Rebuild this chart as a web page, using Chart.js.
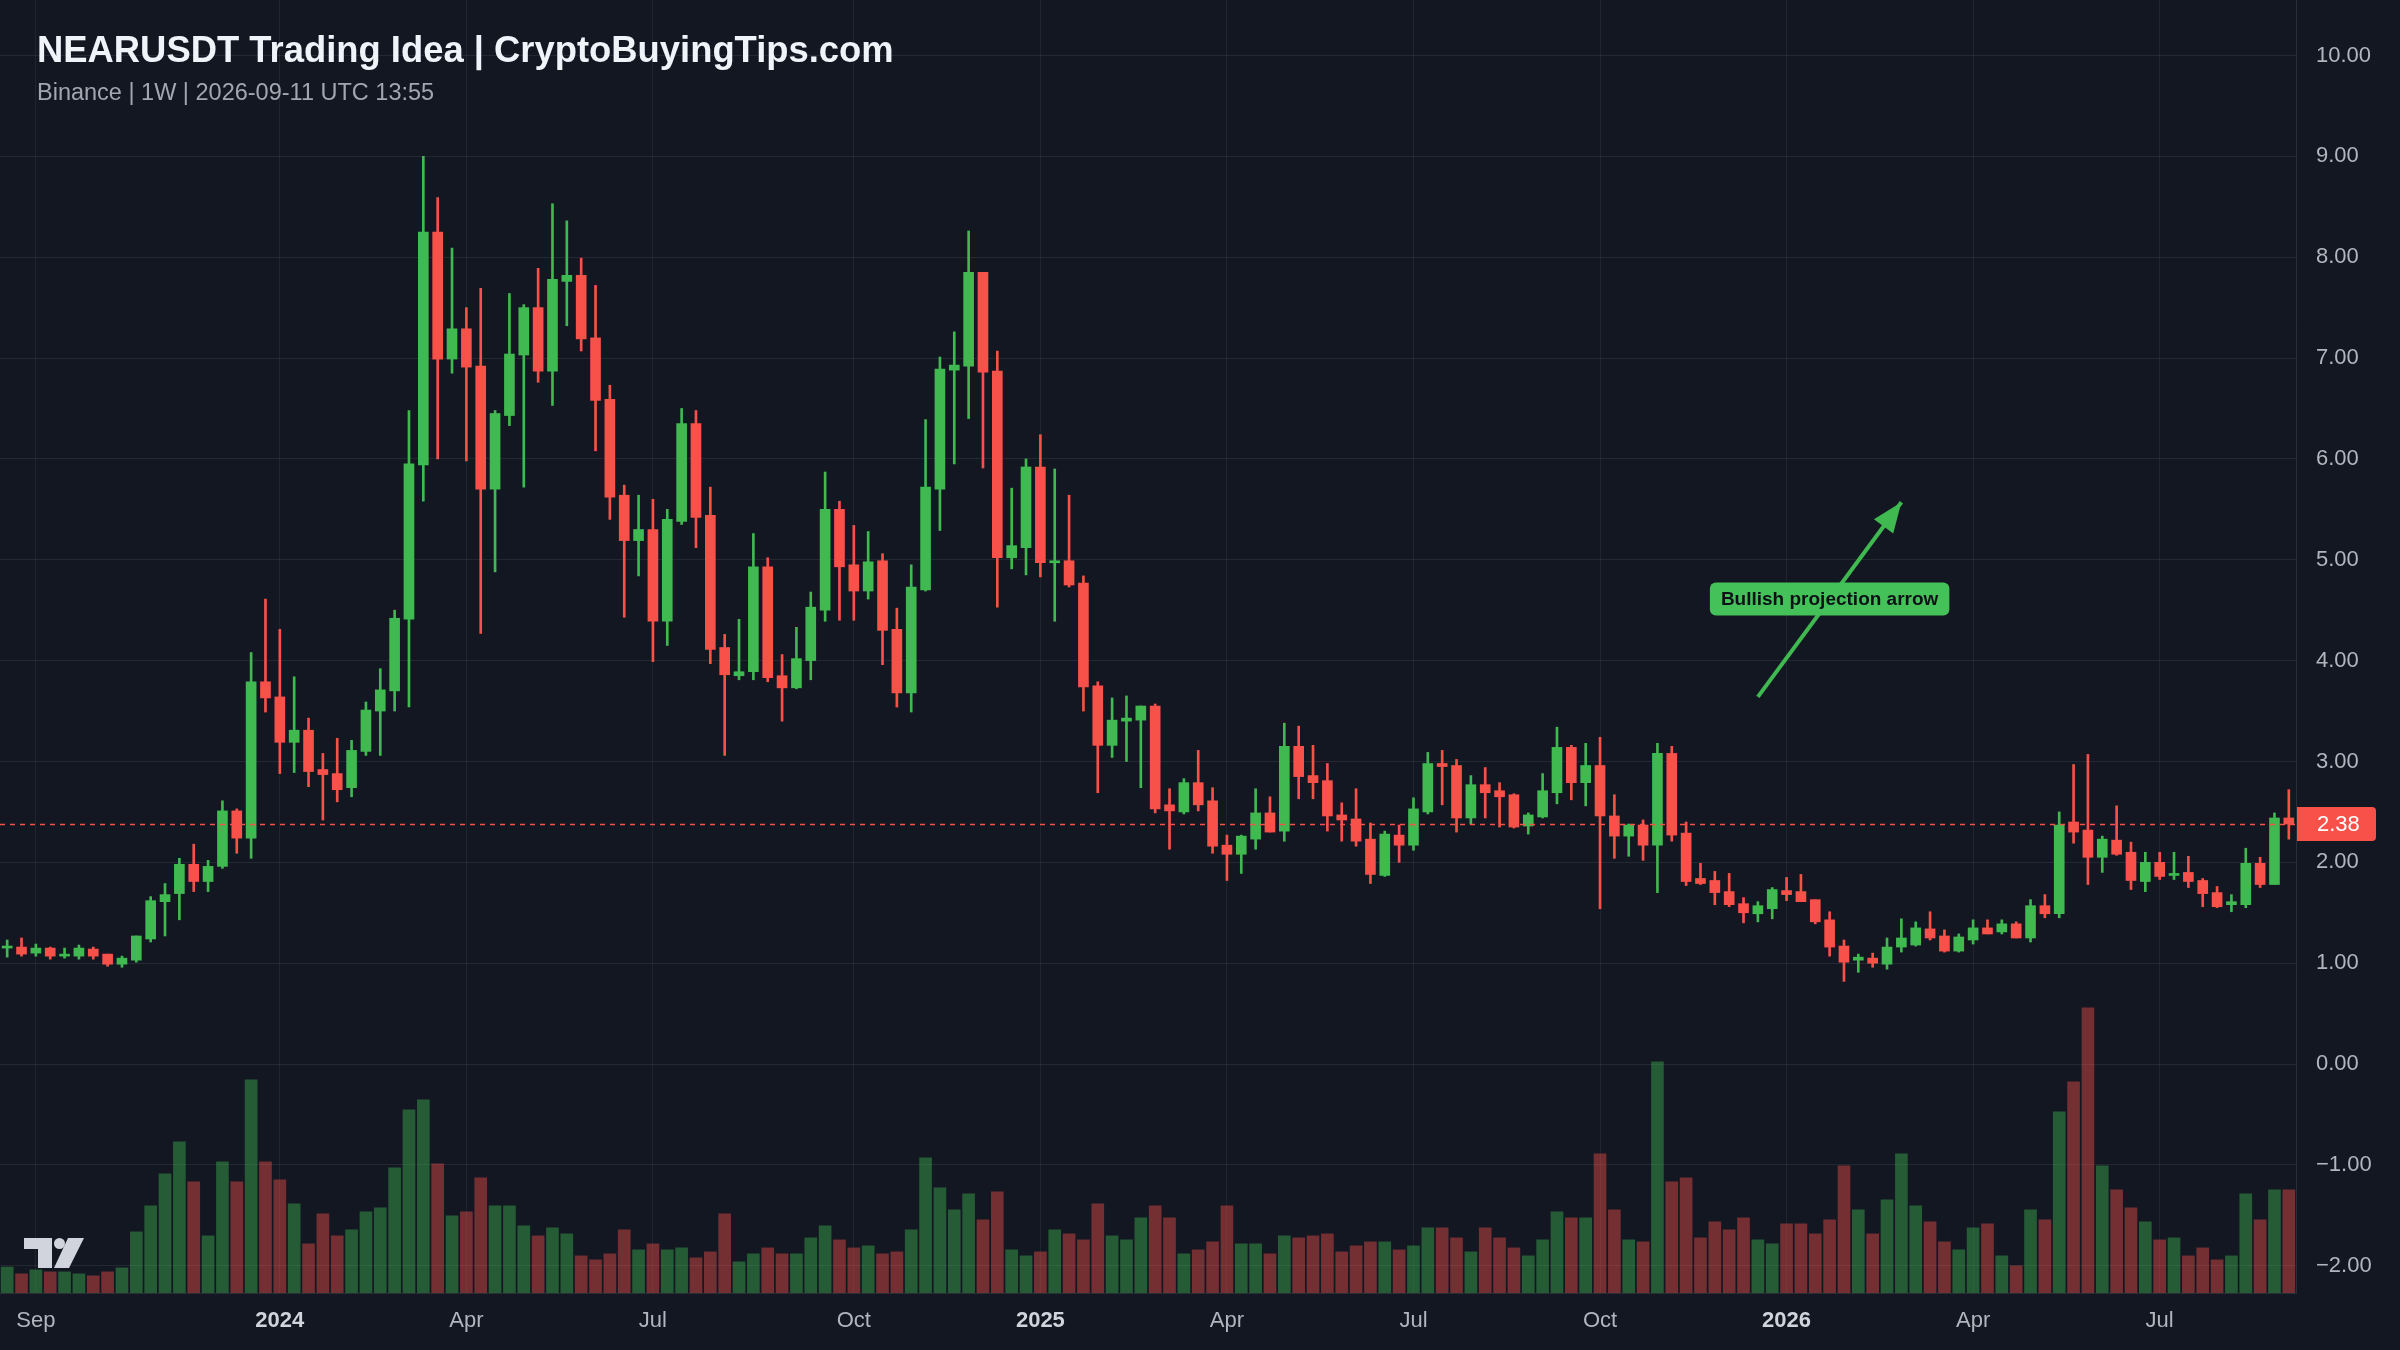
<!DOCTYPE html>
<html>
<head>
<meta charset="utf-8">
<title>NEARUSDT Trading Idea</title>
<script src="https://cdn.jsdelivr.net/npm/chart.js@4.4.1/dist/chart.umd.min.js"></script>
<style>
html, body { margin: 0; padding: 0; background: #131722; }
canvas { display: block; }
</style>
</head>
<body>
<canvas id="chartId" width="2400" height="1350"></canvas>
<script>
// weekly candles, NEARUSDT (Binance), first week starts 2023-08-21
var opens = [
	1.15,1.16,1.10,1.15,1.07,1.07,1.14,1.09,0.99,1.03,
	1.24,1.61,1.69,1.98,1.81,1.96,2.51,2.24,3.79,3.64,
	3.19,3.31,2.92,2.88,2.74,3.10,3.50,3.70,4.41,5.94,
	8.25,6.99,7.29,6.92,5.70,6.43,7.03,7.50,6.87,7.76,
	7.82,7.20,6.59,5.64,5.19,5.30,4.39,5.38,6.35,5.44,
	4.13,3.85,3.89,4.93,3.85,3.73,4.00,4.50,5.50,4.95,
	4.69,4.99,4.31,3.68,4.70,5.70,6.88,6.92,7.85,6.87,
	5.02,5.12,5.92,4.97,4.99,4.77,3.75,3.16,3.40,3.41,
	3.55,2.57,2.50,2.79,2.61,2.17,2.08,2.23,2.49,2.31,
	3.15,2.86,2.81,2.47,2.43,2.23,1.87,2.27,2.17,2.50,
	2.98,2.96,2.44,2.77,2.71,2.67,2.36,2.45,2.69,3.14,
	2.79,2.96,2.46,2.26,2.37,2.17,3.08,2.29,1.84,1.82,
	1.71,1.59,1.49,1.54,1.72,1.71,1.63,1.43,1.17,1.03,
	1.05,0.99,1.16,1.18,1.34,1.27,1.12,1.23,1.35,1.31,
	1.39,1.25,1.57,1.49,2.40,2.32,2.05,2.22,2.10,1.81,
	2.00,1.87,1.90,1.82,1.70,1.58,1.58,1.99,1.78,2.44
];
var highs = [
	1.23,1.25,1.19,1.16,1.15,1.18,1.16,1.09,1.07,1.27,
	1.66,1.79,2.04,2.18,2.02,2.61,2.53,4.08,4.61,4.31,
	3.84,3.43,3.08,3.23,3.21,3.59,3.92,4.50,6.48,9.00,
	8.59,8.09,7.50,7.69,6.48,7.64,7.53,7.89,8.53,8.36,
	7.99,7.72,6.73,5.74,5.64,5.60,5.50,6.50,6.48,5.72,
	4.26,4.41,5.26,5.02,4.06,4.33,4.68,5.87,5.58,5.34,
	5.28,5.06,4.52,4.95,6.39,7.01,7.26,8.26,7.85,7.07,
	5.71,6.00,6.24,5.90,5.64,4.84,3.79,3.63,3.65,3.55,
	3.57,2.73,2.83,3.11,2.74,2.27,2.27,2.73,2.65,3.38,
	3.35,3.16,2.98,2.59,2.73,2.39,2.31,2.37,2.64,3.09,
	3.11,3.02,2.86,2.94,2.79,2.68,2.49,2.88,3.34,3.16,
	3.18,3.24,2.67,2.38,2.42,3.18,3.15,2.40,1.99,1.91,
	1.89,1.65,1.61,1.75,1.85,1.88,1.63,1.51,1.23,1.09,
	1.10,1.25,1.44,1.41,1.51,1.33,1.29,1.43,1.43,1.43,
	1.41,1.63,1.68,2.50,2.97,3.07,2.26,2.56,2.20,2.10,
	2.10,2.10,2.06,1.84,1.76,1.68,2.14,2.05,2.49,2.72
];
var lows = [
	1.06,1.07,1.07,1.04,1.05,1.04,1.04,0.97,0.96,1.01,
	1.21,1.27,1.43,1.71,1.71,1.94,2.09,2.04,3.49,2.88,
	2.89,2.75,2.42,2.60,2.65,3.06,3.06,3.50,3.54,5.58,
	6.00,6.85,5.98,4.27,4.88,6.33,5.72,6.76,6.53,7.32,
	7.07,6.08,5.40,4.43,4.84,3.99,4.15,5.35,5.12,3.97,
	3.06,3.81,3.81,3.79,3.40,3.72,3.81,4.39,4.40,4.40,
	4.61,3.96,3.54,3.49,4.69,5.29,5.95,6.40,5.91,4.53,
	4.91,4.85,4.83,4.39,4.73,3.50,2.69,3.04,3.00,2.74,
	2.49,2.13,2.48,2.51,2.09,1.82,1.89,2.13,2.30,2.21,
	2.63,2.63,2.31,2.21,2.16,1.79,1.86,2.00,2.12,2.48,
	2.57,2.30,2.38,2.44,2.35,2.34,2.28,2.44,2.58,2.62,
	2.56,1.54,2.04,2.06,2.02,1.70,2.21,1.77,1.78,1.58,
	1.56,1.40,1.41,1.44,1.62,1.61,1.39,1.07,0.82,0.91,
	0.96,0.94,1.11,1.17,1.23,1.11,1.11,1.19,1.29,1.29,
	1.25,1.21,1.45,1.45,2.19,1.78,1.90,2.07,1.73,1.71,
	1.83,1.83,1.75,1.56,1.55,1.51,1.55,1.75,1.78,2.23
];
var closes = [
	1.17,1.09,1.15,1.07,1.08,1.15,1.07,0.99,1.05,1.27,
	1.62,1.68,1.98,1.81,1.96,2.51,2.24,3.79,3.63,3.19,
	3.31,2.90,2.87,2.72,3.11,3.51,3.71,4.42,5.95,8.25,
	6.99,7.29,6.91,5.70,6.45,7.04,7.50,6.87,7.78,7.82,
	7.19,6.58,5.62,5.19,5.30,4.39,5.40,6.35,5.42,4.11,
	3.86,3.89,4.93,3.83,3.73,4.02,4.53,5.50,4.93,4.69,
	4.98,4.30,3.68,4.73,5.72,6.89,6.93,7.85,6.86,5.02,
	5.14,5.92,4.97,4.99,4.75,3.74,3.16,3.41,3.43,3.55,
	2.53,2.51,2.79,2.57,2.16,2.08,2.26,2.49,2.30,3.15,
	2.85,2.79,2.46,2.42,2.21,1.88,2.28,2.17,2.53,2.98,
	2.95,2.44,2.77,2.69,2.65,2.35,2.47,2.71,3.14,2.79,
	2.96,2.46,2.26,2.37,2.17,3.08,2.27,1.81,1.79,1.70,
	1.58,1.50,1.57,1.73,1.68,1.61,1.41,1.16,1.01,1.06,
	1.00,1.16,1.25,1.35,1.25,1.12,1.26,1.35,1.29,1.39,
	1.25,1.57,1.49,2.37,2.30,2.05,2.23,2.08,1.82,2.00,
	1.86,1.89,1.81,1.69,1.56,1.61,1.99,1.78,2.44,2.38
];
// volume (M NEAR)
var volumes = [
	9.1,6.7,8.1,7.4,7.4,6.7,6.0,7.4,8.8,21.4,
	30.5,41.7,52.9,38.9,20.0,45.9,38.9,74.6,45.9,39.6,
	31.2,17.2,27.7,20.0,22.1,28.4,29.8,43.8,64.1,67.6,
	45.2,27.0,28.4,40.3,30.5,30.5,23.5,20.0,22.8,20.7,
	13.0,11.6,13.7,22.1,15.1,17.2,15.1,15.8,12.3,14.4,
	27.7,10.9,13.7,15.8,13.7,13.7,19.3,23.5,18.6,15.8,
	16.5,13.7,14.4,22.1,47.3,36.8,29.1,34.7,25.6,35.4,
	15.1,13.0,14.4,22.1,20.7,18.6,31.2,20.0,18.6,26.3,
	30.5,26.3,13.7,15.1,17.9,30.5,17.2,17.2,13.7,20.0,
	19.3,20.0,20.7,14.4,16.5,17.9,17.9,15.1,16.5,22.8,
	22.8,19.3,14.4,22.8,19.3,15.8,13.0,18.6,28.4,26.3,
	26.3,48.7,29.1,18.6,17.9,80.9,38.9,40.3,19.3,24.9,
	22.1,26.3,18.6,17.2,24.2,24.2,20.7,25.6,44.5,29.1,
	20.7,32.6,48.7,30.5,24.9,17.9,15.1,22.8,24.2,13.0,
	9.5,29.1,25.6,63.4,73.9,99.8,44.5,36.1,29.8,24.9,
	18.6,19.3,13.0,15.8,11.6,13.0,34.7,25.6,36.1,36.1
];

// x axis ticks (week index -> text)
var tickIdx = [2, 19, 32, 45, 59, 72, 85, 98, 111, 124, 137, 150];
var tickText = ['Sep', '2024', 'Apr', 'Jul', 'Oct', '2025', 'Apr', 'Jul', 'Oct', '2026', 'Apr', 'Jul'];

// projection arrow: [week index, price]
var arrowFrom = [122, 3.64];
var arrowTo = [132, 5.57];
var noteAt = [127, 4.61];
var noteText = 'Bullish projection arrow';

var titleText = 'NEARUSDT Trading Idea | CryptoBuyingTips.com';
var subText = 'Binance | 1W | 2026-09-11 UTC 13:55';

var upColor = '#3fb950';
var downColor = '#f85149';
var upVol = 'rgba(63,185,80,0.42)';
var downVol = 'rgba(248,81,73,0.42)';
var fontFamily = '"Liberation Sans", Arial, Helvetica, sans-serif';

var weeks = [];
for (var i = 0; i < closes.length; i++) {
	var d = new Date(Date.UTC(2023, 7, 21 + 7 * i));
	weeks.push(d.toISOString().slice(0, 10));
}

var candleColours = closes.map((c, i) => c >= opens[i] ? upColor : downColor);
var volColours = closes.map((c, i) => c >= opens[i] ? upVol : downVol);

function isYear(v) {
	return /^\d{4}$/.test(tickText[tickIdx.indexOf(v)] || '');
}

var overlay = {
	id: 'overlay',
	afterDatasetsDraw(chart) {
		const { ctx, chartArea, scales } = chart;
		const last = closes[closes.length - 1];
		const py = Math.round(scales.y.getPixelForValue(last)) + 0.5;
		ctx.save();
		// last price line
		ctx.strokeStyle = downColor;
		ctx.lineWidth = 1.5;
		ctx.setLineDash([5, 5]);
		ctx.beginPath();
		ctx.moveTo(chartArea.left, py);
		ctx.lineTo(chartArea.right, py);
		ctx.stroke();
		ctx.setLineDash([]);

		// arrow head
		const pts = chart.getDatasetMeta(3).data;
		const a = pts[0], b = pts[1];
		const ang = Math.atan2(b.y - a.y, b.x - a.x);
		const len = 30, w = 12;
		ctx.fillStyle = upColor;
		ctx.beginPath();
		ctx.moveTo(b.x, b.y);
		ctx.lineTo(b.x - len * Math.cos(ang) + w * Math.sin(ang), b.y - len * Math.sin(ang) - w * Math.cos(ang));
		ctx.lineTo(b.x - len * Math.cos(ang) - w * Math.sin(ang), b.y - len * Math.sin(ang) + w * Math.cos(ang));
		ctx.closePath();
		ctx.fill();

		// note box
		const nx = scales.x.getPixelForValue(noteAt[0]);
		const ny = scales.y.getPixelForValue(noteAt[1]);
		ctx.font = 'bold 19px ' + fontFamily;
		const tw = ctx.measureText(noteText).width;
		const bw = tw + 22, bh = 33;
		ctx.fillStyle = '#45c15a';
		ctx.beginPath();
		ctx.roundRect(nx - bw / 2, ny - bh / 2, bw, bh, 6);
		ctx.fill();
		ctx.fillStyle = '#0d1117';
		ctx.textAlign = 'center';
		ctx.textBaseline = 'middle';
		ctx.fillText(noteText, nx, ny + 1);
		ctx.restore();
	},
	afterDraw(chart) {
		const { ctx, chartArea, scales } = chart;
		ctx.save();
		// title
		ctx.textAlign = 'left';
		ctx.textBaseline = 'alphabetic';
		ctx.fillStyle = '#f0f3fa';
		ctx.font = 'bold 36.4px ' + fontFamily;
		ctx.fillText(titleText, 37, 62);
		ctx.fillStyle = '#a3a6af';
		ctx.font = '23.5px ' + fontFamily;
		ctx.fillText(subText, 37, 100);

		// price tag on the axis
		const last = closes[closes.length - 1];
		const py = scales.y.getPixelForValue(last);
		ctx.fillStyle = downColor;
		ctx.beginPath();
		ctx.roundRect(chartArea.right + 1, py - 17, 79, 34, [0, 4, 4, 0]);
		ctx.fill();
		ctx.fillStyle = '#ffffff';
		ctx.font = '22px ' + fontFamily;
		ctx.textBaseline = 'middle';
		ctx.fillText(last.toFixed(2), chartArea.right + 21, py + 1);

		// TradingView mark, bottom left
		ctx.fillStyle = '#d1d4dc';
		ctx.beginPath();
		ctx.moveTo(24, 1238); ctx.lineTo(52, 1238); ctx.lineTo(52, 1268);
		ctx.lineTo(38, 1268); ctx.lineTo(38, 1249); ctx.lineTo(24, 1249);
		ctx.closePath();
		ctx.fill();
		ctx.beginPath();
		ctx.arc(59.5, 1243.5, 5.5, 0, Math.PI * 2);
		ctx.fill();
		ctx.beginPath();
		ctx.moveTo(68, 1238); ctx.lineTo(84, 1238); ctx.lineTo(69, 1268); ctx.lineTo(54, 1268);
		ctx.closePath();
		ctx.fill();
		ctx.restore();
	}
};

Chart.defaults.font.family = fontFamily;

var chrt = document.getElementById('chartId').getContext('2d');
var chartId = new Chart(chrt, {
	type: 'bar',
	data: {
		labels: weeks,
		datasets: [{
			// candle bodies
			data: opens.map((o, i) => [o, closes[i]]),
			backgroundColor: candleColours,
			barThickness: 10,
			minBarLength: 2,
			borderWidth: 0,
			grouped: false,
			yAxisID: 'y',
			order: 1
		}, {
			// wicks
			data: lows.map((l, i) => [l, highs[i]]),
			backgroundColor: candleColours,
			barThickness: 2,
			borderWidth: 0,
			grouped: false,
			yAxisID: 'y',
			order: 2
		}, {
			// volume
			data: volumes,
			backgroundColor: volColours,
			barThickness: 12,
			borderWidth: 0,
			grouped: false,
			yAxisID: 'yv',
			order: 3
		}, {
			type: 'line',
			data: [{ x: weeks[arrowFrom[0]], y: arrowFrom[1] }, { x: weeks[arrowTo[0]], y: arrowTo[1] }],
			borderColor: upColor,
			borderWidth: 4,
			pointRadius: 0,
			yAxisID: 'y',
			order: 0
		}]
	},
	options: {
		responsive: false,
		animation: false,
		devicePixelRatio: 1,
		layout: { padding: 0 },
		plugins: {
			legend: { display: false },
			tooltip: { enabled: false }
		},
		scales: {
			x: {
				type: 'category',
				offset: true,
				grid: { offset: false, color: 'rgba(255,255,255,0.06)', drawTicks: false },
				border: { display: true, color: '#2a2e39' },
				afterBuildTicks: (scale) => {
					scale.ticks = scale.ticks.filter(t => tickIdx.includes(t.value));
				},
				afterFit: (scale) => {
					scale.height = 57;
					scale.paddingLeft = 0;
					scale.paddingRight = 0;
				},
				ticks: {
					autoSkip: false,
					maxRotation: 0,
					padding: 15,
					callback: (value) => tickText[tickIdx.indexOf(value)],
					color: (c) => isYear(c.tick ? c.tick.value : -1) ? '#d1d4dc' : '#b2b5be',
					font: (c) => ({
						family: fontFamily,
						size: 22,
						weight: isYear(c.tick ? c.tick.value : -1) ? 'bold' : 'normal'
					})
				}
			},
			y: {
				type: 'linear',
				position: 'right',
				min: -2.27,
				max: 10.55,
				grid: { color: 'rgba(255,255,255,0.075)', drawTicks: false },
				border: { display: true, color: '#2a2e39' },
				afterFit: (scale) => {
					scale.width = 104;
					scale.paddingTop = 0;
					scale.paddingBottom = 0;
				},
				ticks: {
					stepSize: 1,
					includeBounds: false,
					padding: 20,
					color: '#b2b5be',
					font: { size: 22 },
					callback: (v) => v < 0 ? '\u2212' + Math.abs(v).toFixed(2) : v.toFixed(2)
				}
			},
			yv: {
				type: 'linear',
				display: false,
				min: 0,
				max: 452.6
			}
		}
	},
	plugins: [overlay]
});
</script>
</body>
</html>
